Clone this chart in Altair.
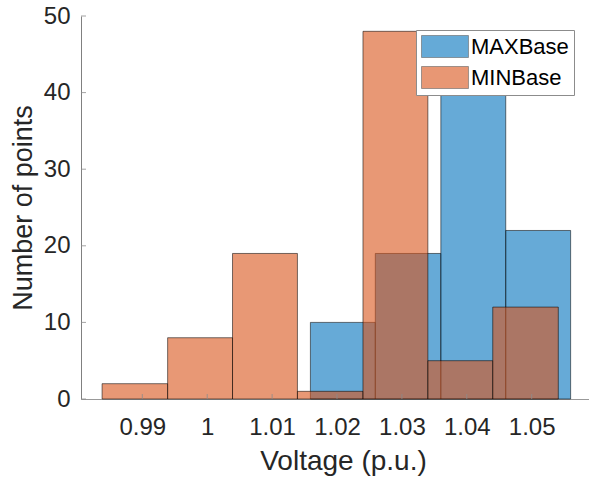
import altair as alt
import pandas as pd

# Histogram bin edges and counts
max_edges = [1.0159, 1.0259, 1.0360, 1.0460, 1.0560]
max_counts = [10, 19, 44, 22]
min_edges = [0.9838, 0.9939, 1.0039, 1.0139, 1.0240, 1.0340, 1.0440, 1.0541]
min_counts = [2, 8, 19, 1, 48, 5, 12]

series = ["MAXBase", "MINBase"]
x_ticks = [0.99, 1.00, 1.01, 1.02, 1.03, 1.04, 1.05]
y_ticks = [0, 10, 20, 30, 40, 50]
x_domain = [0.98055, 1.05883]
y_domain = [0, 50]

rows = []
for i, c in enumerate(max_counts):
    rows.append({"series": "MAXBase", "x0": max_edges[i], "x1": max_edges[i + 1], "count": c})
for i, c in enumerate(min_counts):
    rows.append({"series": "MINBase", "x0": min_edges[i], "x1": min_edges[i + 1], "count": c})
df = pd.DataFrame(rows)

FONT = "Liberation Sans"
W, H = 508, 383

bars = alt.Chart(df).mark_rect(
    fillOpacity=0.6, stroke="#000000", strokeWidth=0.6, strokeOpacity=0.9
).encode(
    x=alt.X("x0:Q", scale=alt.Scale(domain=x_domain, nice=False, zero=False),
            axis=alt.Axis(values=x_ticks, format=".2~f", title="Voltage (p.u.)",
                          labelFontSize=24, labelColor="#262626", labelFont=FONT,
                          labelBaseline="alphabetic", labelPadding=35, labelFlush=False,
                          ticks=False, tickSize=0, grid=False,
                          domainColor="#999999", domainWidth=1,
                          titleFont=FONT, titleFontSize=28, titleFontWeight="normal",
                          titleColor="#262626", titleX=262, titleY=70,
                          titleBaseline="alphabetic", titleAlign="center")),
    x2="x1:Q",
    y=alt.Y("count:Q", scale=alt.Scale(domain=y_domain, nice=False),
            axis=alt.Axis(values=y_ticks, title="Number of points",
                          labelFontSize=24, labelColor="#262626", labelFont=FONT,
                          labelPadding=11, ticks=False, tickSize=0, grid=False,
                          domainColor="#808080", domainWidth=1,
                          titleFont=FONT, titleFontSize=27, titleFontWeight="normal",
                          titleColor="#262626", titleAngle=270, titleX=-50, titleY=H / 2,
                          titleBaseline="alphabetic", titleAlign="center")),
    y2=alt.datum(0),
    color=alt.Color("series:N",
                    scale=alt.Scale(domain=series, range=["#0072BD", "#D95319"]),
                    legend=alt.Legend(title=None, orient="none", legendX=335, legendY=14,
                                      symbolType="M-1,-1H3.27V1H-1Z", symbolSize=484,
                                      symbolOpacity=0.6, symbolStrokeColor="#000000",
                                      symbolStrokeWidth=0.6,
                                      labelFont=FONT, labelFontSize=22, labelColor="#000000",
                                      labelOffset=27, labelLimit=300, rowPadding=6,
                                      padding=5, fillColor="#ffffff", strokeColor="#8c8c8c")),
    order=alt.Order("series:N"),
)

tick_df = pd.DataFrame({"v": x_ticks})
ytick_df = pd.DataFrame({"v": y_ticks})

xticks = alt.Chart(tick_df).mark_rule(color="#8c8c8c", strokeWidth=0.8).encode(
    x="v:Q", y=alt.value(H), y2=alt.value(H - 5)
)
yticks = alt.Chart(ytick_df).mark_rule(color="#8c8c8c", strokeWidth=0.8).encode(
    y="v:Q", x=alt.value(0), x2=alt.value(5)
)

chart = alt.layer(bars, xticks, yticks).properties(
    width=W, height=H,
    autosize=alt.AutoSizeParams(type="none"),
    padding={"left": 81, "top": 16, "right": 0, "bottom": 79},
    background="#ffffff",
).configure_view(stroke=None)

chart.save("out.html", embed_options={"renderer": "svg", "actions": False})
